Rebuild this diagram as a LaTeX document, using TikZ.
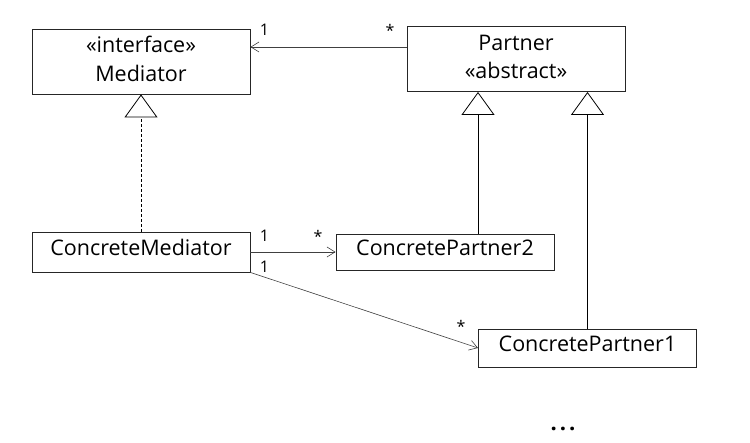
\documentclass[tikz,border=0pt]{standalone}
\usepackage{fontspec}
\setmainfont{Open Sans}
\usetikzlibrary{arrows.meta}

\begin{document}
\begin{tikzpicture}[
  x=1pt, y=-1pt,
  cls/.style={draw=black!85, line width=0.9pt, inner sep=0pt,
              minimum width=218pt, align=center,
              font=\fontsize{21.5}{28.6}\selectfont},
  one/.style={cls, text height=12pt, text depth=4pt},
  two/.style={cls, minimum height=65pt, text height=40pt, text depth=0pt},
  mult/.style={anchor=base, inner sep=0pt, font=\fontsize{16}{19}\selectfont},
  assoc/.style={draw=black!75, line width=0.6pt,
                -{Straight Barb[length=8pt, width=10pt]}},
  inherit/.style={draw=black, line width=0.8pt,
                  -{Triangle[open, length=23pt, width=33pt]}}
]
  \useasboundingbox (0,0) rectangle (750,443);

  % classes
  \node[two]                      (med)     at (141, 61.5) {«interface»\\Mediator};
  \node[two]                      (partner) at (516, 59)   {Partner\\«abstract»};
  \node[one, minimum height=40pt] (cmed)    at (141, 252)  {ConcreteMediator};
  \node[one, minimum height=36pt] (cp2)     at (445, 252)  {ConcretePartner2};
  \node[one, minimum height=38pt] (cp1)     at (587.5, 348) {ConcretePartner1};

  % realization / generalization
  \draw[inherit, dash pattern=on 3pt off 2pt] (cmed.north) -- (med.south);
  \draw[inherit] ([xshift=33pt]cp2.north) -- ([xshift=33pt]cp2.north |- partner.south);
  \draw[inherit] (cp1.north) -- (cp1.north |- partner.south);

  % associations
  \draw[assoc] ([yshift=12pt]partner.west) -- ([yshift=12pt]partner.west -| med.east);
  \draw[assoc] (cmed.east) -- (cp2.west);
  \draw[assoc] (cmed.south east) -- (cp1.west);

  % multiplicities
  \node[mult] (m1) at (264.5, 36) {1};
  \node[mult] (m2) at (390, 37)   {*};
  \node[mult] (m3) at (264.5, 242) {1};
  \node[mult] (m4) at (318, 243)  {*};
  \node[mult] (m5) at (264.5, 273) {1};
  \node[mult] (m6) at (461, 333)  {*};

  \node[anchor=base, inner sep=0pt, font=\fontsize{22}{24}\selectfont\bfseries]
    (more) at (563, 431) {.\kern3pt.\kern3pt.};
\end{tikzpicture}
\end{document}
